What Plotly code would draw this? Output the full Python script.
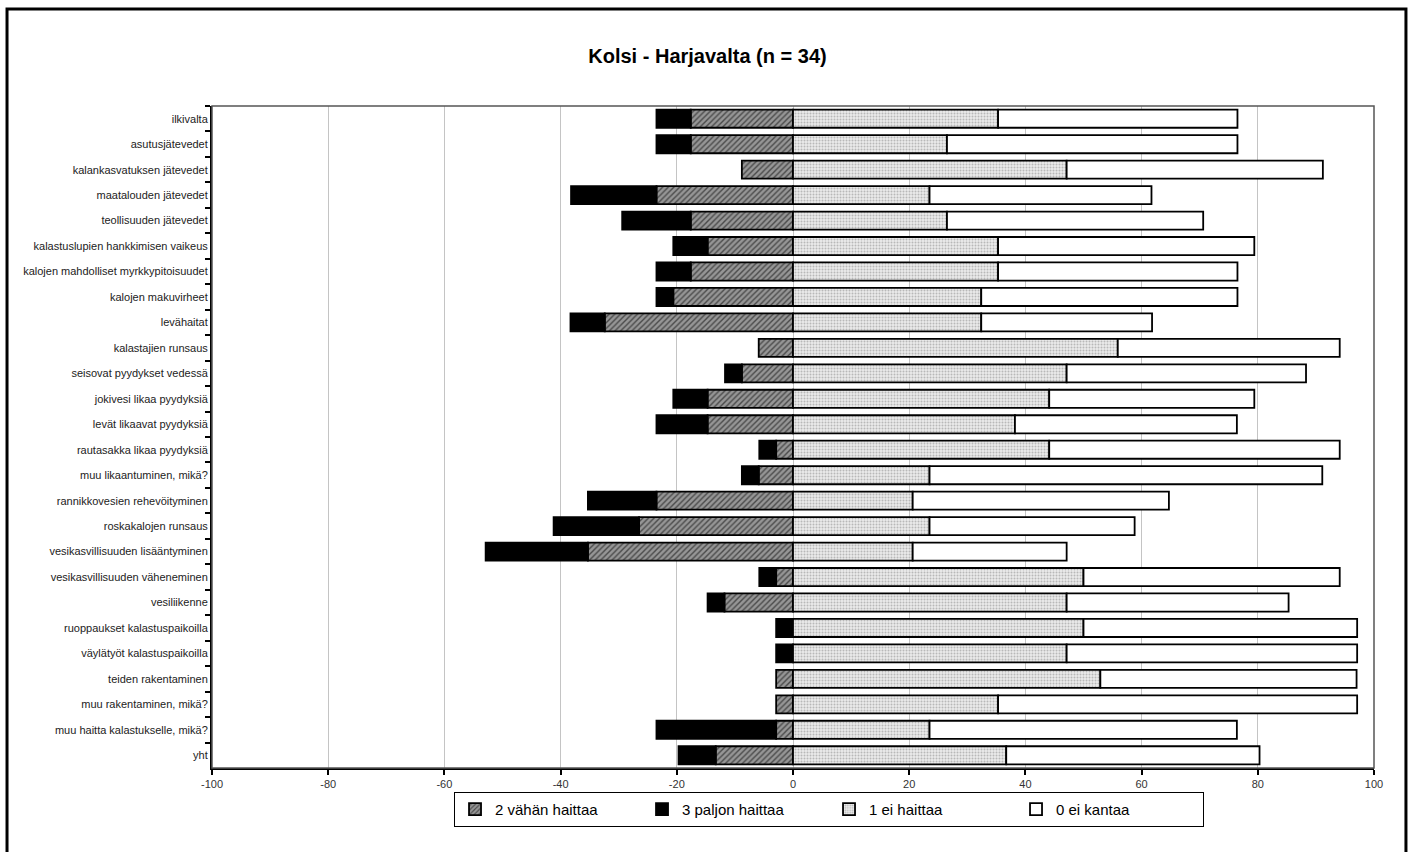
import plotly.graph_objects as go

# Survey items (top to bottom)
categories = [
    "ilkivalta",
    "asutusjätevedet",
    "kalankasvatuksen jätevedet",
    "maatalouden jätevedet",
    "teollisuuden jätevedet",
    "kalastuslupien hankkimisen vaikeus",
    "kalojen mahdolliset myrkkypitoisuudet",
    "kalojen makuvirheet",
    "levähaitat",
    "kalastajien runsaus",
    "seisovat pyydykset vedessä",
    "jokivesi likaa pyydyksiä",
    "levät likaavat pyydyksiä",
    "rautasakka likaa pyydyksiä",
    "muu likaantuminen, mikä?",
    "rannikkovesien rehevöityminen",
    "roskakalojen runsaus",
    "vesikasvillisuuden lisääntyminen",
    "vesikasvillisuuden väheneminen",
    "vesiliikenne",
    "ruoppaukset kalastuspaikoilla",
    "väylätyöt kalastuspaikoilla",
    "teiden rakentaminen",
    "muu rakentaminen, mikä?",
    "muu haitta kalastukselle, mikä?",
    "yht",
]

# Share of respondents (%) per answer class
vahan_haittaa = [17.6, 17.6, 8.8, 23.5, 17.6, 14.7, 17.6, 20.6, 32.4, 5.9, 8.8, 14.7, 14.7,
                 2.9, 5.9, 23.5, 26.5, 35.3, 2.9, 11.8, 0.0, 0.0, 2.9, 2.9, 2.9, 13.3]
paljon_haittaa = [5.9, 5.9, 0.0, 14.7, 11.8, 5.9, 5.9, 2.9, 5.9, 0.0, 2.9, 5.9, 8.8,
                  2.9, 2.9, 11.8, 14.7, 17.6, 2.9, 2.9, 2.9, 2.9, 0.0, 0.0, 20.6, 6.4]
ei_haittaa = [35.3, 26.5, 47.1, 23.5, 26.5, 35.3, 35.3, 32.4, 32.4, 55.9, 47.1, 44.1, 38.2,
              44.1, 23.5, 20.6, 23.5, 20.6, 50.0, 47.1, 50.0, 47.1, 52.9, 35.3, 23.5, 36.7]
ei_kantaa = [41.2, 50.0, 44.1, 38.2, 44.1, 44.1, 41.2, 44.1, 29.4, 38.2, 41.2, 35.3, 38.2,
             50.0, 67.6, 44.1, 35.3, 26.5, 44.1, 38.2, 47.1, 50.0, 44.1, 61.8, 52.9, 43.6]

x_ticks = [-100, -80, -60, -40, -20, 0, 20, 40, 60, 80, 100]

FONT = "Liberation Sans Narrow, Arial Narrow, Liberation Sans, Arial, sans-serif"
outline = dict(color="black", width=1.8)

fig = go.Figure()

# Harm answers stack to the left of zero
fig.add_trace(go.Bar(
    y=categories, x=[-v for v in vahan_haittaa], orientation="h",
    name="2 vähän haittaa",
    marker=dict(
        color="#888888", line=outline,
        pattern=dict(shape="/", fillmode="replace", bgcolor="#969696",
                     fgcolor="#4a4a4a", size=4, solidity=0.35),
    ),
))
fig.add_trace(go.Bar(
    y=categories, x=[-v for v in paljon_haittaa], orientation="h",
    name="3 paljon haittaa",
    marker=dict(color="black", line=outline),
))
# No-harm answers stack to the right of zero
fig.add_trace(go.Bar(
    y=categories, x=ei_haittaa, orientation="h",
    name="1 ei haittaa",
    marker=dict(
        color="#e2e2e2", line=outline,
        pattern=dict(shape=".", fillmode="replace", bgcolor="#ebebeb",
                     fgcolor="#b8b8b8", size=3, solidity=0.35),
    ),
))
fig.add_trace(go.Bar(
    y=categories, x=ei_kantaa, orientation="h",
    name="0 ei kantaa",
    marker=dict(color="white", line=outline),
))

fig.update_layout(
    width=1415, height=852,
    barmode="relative", bargap=0.29,
    paper_bgcolor="white", plot_bgcolor="white",
    margin=dict(l=212, r=41, t=106, b=84),
    font=dict(family=FONT, color="#222222"),
    title=dict(text="<b>Kolsi - Harjavalta (n = 34)</b>", x=0.5, xanchor="center",
               y=1 - 56 / 852, yanchor="middle",
               font=dict(family=FONT, size=20, color="black")),
    legend=dict(
        orientation="h", x=0.531, xanchor="center", y=-0.036, yanchor="top",
        bordercolor="black", borderwidth=1, bgcolor="white",
        font=dict(family=FONT, size=15, color="black"),
        entrywidth=142, traceorder="normal",
    ),
    xaxis=dict(
        range=[-100, 100], tickvals=x_ticks, ticktext=[str(t) for t in x_ticks],
        showgrid=True, gridcolor="#c4c4c4", gridwidth=1, zeroline=False,
        showline=True, linecolor="black", linewidth=2,
        ticks="outside", ticklen=5, tickwidth=1.5, tickcolor="black",
        tickfont=dict(family=FONT, size=11, color="#333333"),
    ),
    yaxis=dict(
        categoryorder="array", categoryarray=categories, autorange="reversed",
        showline=True, linecolor="black", linewidth=2,
        ticks="outside", ticklen=5, tickwidth=1.5, tickcolor="black",
        tickson="boundaries", showgrid=False,
        tickfont=dict(family=FONT, size=11, color="#222222"),
    ),
    shapes=[
        # plot area frame (top and right edges)
        dict(type="rect", xref="paper", yref="paper", x0=0, x1=1, y0=0, y1=1,
             line=dict(color="#555555", width=1.5), layer="above"),
        # outer chart frame
        dict(type="rect", xref="paper", yref="paper",
             x0=-0.1764, x1=1.0275, y0=-0.14, y1=1.1465,
             line=dict(color="black", width=3)),
    ],
)

fig.write_html("out.html")
